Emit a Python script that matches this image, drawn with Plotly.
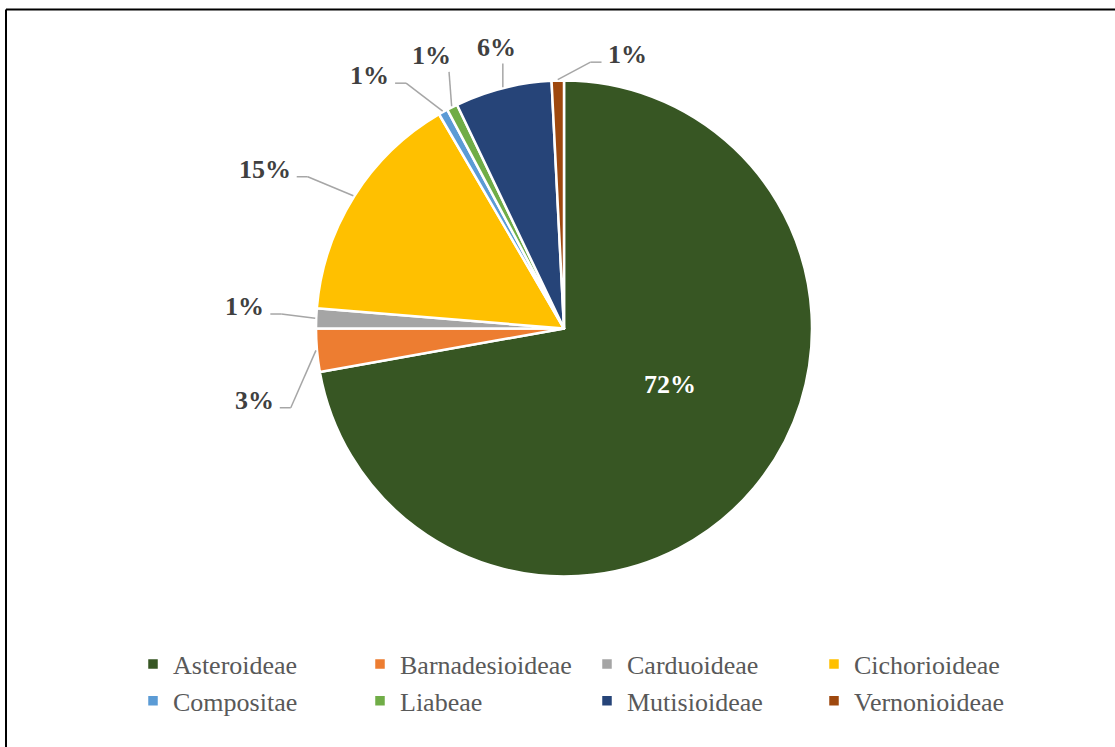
import math
import plotly.graph_objects as go

# ---- data ----
categories = ["Asteroideae", "Barnadesioideae", "Carduoideae", "Cichorioideae",
              "Compositae", "Liabeae", "Mutisioideae", "Vernonioideae"]
shares = [72.2, 2.8, 1.3, 15.3, 0.6, 0.7, 6.3, 0.8]

# ---- style / layout ----
colors = ["#375623", "#ED7D31", "#A5A5A5", "#FFC000",
          "#5B9BD5", "#70AD47", "#264478", "#9E480E"]
W, H = 1115, 747
CX, CY, R = 564, 328.5, 248          # pie centre and radius in px
label_shift = [-12, -8, 1.6, -4.2, -8.4, 0.9, 0.7, 14.4]   # deg nudges of label placement
label_rfac = [0.484, 1.282, 1.29, 1.367, 1.286, 1.222, 1.165, 1.133]
FONT = "Times New Roman, Liberation Serif, serif"
LEADER = "#A6A6A6"


def px(x):
    return x / W


def py(y):
    return 1 - y / H


total = sum(shares)
pct_text = [f"{round(v / total * 100)}%" for v in shares]

fig = go.Figure(go.Pie(
    labels=categories,
    values=shares,
    sort=False,
    direction="clockwise",
    rotation=0,
    marker=dict(colors=colors, line=dict(color="white", width=2.5)),
    textinfo="none",
    hoverinfo="label+percent",
    domain=dict(x=[px(CX - R), px(CX + R)], y=[py(CY + R), py(CY - R)]),
))

annotations = []
shapes = []
cum = 0.0
for i, v in enumerate(shares):
    a0 = cum / total * 360
    cum += v
    a1 = cum / total * 360
    mid = (a0 + a1) / 2
    la = math.radians(mid + label_shift[i])
    rl = R * label_rfac[i]
    lx = CX + rl * math.sin(la)
    ly = CY - rl * math.cos(la)
    inside = label_rfac[i] < 1
    annotations.append(dict(
        x=px(lx), y=py(ly), xref="paper", yref="paper",
        text=f"<b>{pct_text[i]}</b>", showarrow=False,
        xanchor="center", yanchor="middle",
        font=dict(family=FONT, size=26, color="white" if inside else "#404040"),
    ))
    if inside:
        continue
    m = math.radians(mid)
    ex = CX + (R + 1) * math.sin(m)
    ey = CY - (R + 1) * math.cos(m)
    hw = 0.5 * 26 * (0.5 * (len(pct_text[i]) - 1) + 1.0)
    if abs(ex - lx) <= hw + 2:
        vx = min(max(ex, lx - hw + 2), lx + hw - 2)
        pts = [(ex, ey), (vx, ly + 16)]
    else:
        side = 1 if ex > lx else -1
        endx = lx + side * (hw + 6)
        elx = endx + side * 11
        yy = ly + 7.5
        pts = [(ex, ey), (elx, yy), (endx, yy)]
    for (x0, y0), (x1, y1) in zip(pts[:-1], pts[1:]):
        shapes.append(dict(type="line", xref="paper", yref="paper",
                           x0=px(x0), y0=py(y0), x1=px(x1), y1=py(y1),
                           line=dict(color=LEADER, width=1.5)))

# outer frame (left and top edges visible)
shapes.append(dict(type="line", xref="paper", yref="paper",
                   x0=px(6), y0=py(9.5), x1=px(6), y1=-0.02,
                   line=dict(color="black", width=2)))
shapes.append(dict(type="line", xref="paper", yref="paper",
                   x0=px(6), y0=py(9.5), x1=1.02, y1=py(9.5),
                   line=dict(color="black", width=2)))

fig.update_layout(
    width=W, height=H,
    margin=dict(l=0, r=0, t=0, b=0, autoexpand=False),
    paper_bgcolor="white",
    plot_bgcolor="white",
    showlegend=True,
    legend=dict(
        orientation="h",
        x=px(133), y=py(640.5), xanchor="left", yanchor="top",
        entrywidth=182, entrywidthmode="pixels",
        font=dict(family=FONT, size=26, color="#595959"),
        traceorder="normal",
    ),
    annotations=annotations,
    shapes=shapes,
)

fig.write_html("out.html",
               config={"displayModeBar": False},
               post_script="document.body.style.margin='0';document.body.style.overflow='hidden';")
